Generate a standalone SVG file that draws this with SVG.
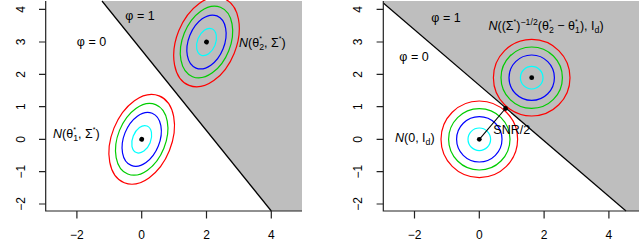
<svg xmlns="http://www.w3.org/2000/svg" width="640" height="241" viewBox="0 0 640 241">
<style>
text{font-family:"Liberation Sans",Arial,sans-serif;fill:#000}
.tk{font-size:12px;text-anchor:middle}
.lab{font-size:12.5px}
.mid{text-anchor:middle}
.it{font-style:italic}
.sm{font-size:8.75px}
.st{font-size:7px}
.ax{stroke:#222;stroke-width:1.2;fill:none}
.bd{stroke:#000;stroke-width:1.2;fill:none}
.c1{stroke:#FF0000;stroke-width:1.2;fill:none}
.c2{stroke:#00CD00;stroke-width:1.2;fill:none}
.c3{stroke:#0000FF;stroke-width:1.2;fill:none}
.c4{stroke:#00FFFF;stroke-width:1.2;fill:none}
</style>
<defs>
<g id="ell">
<ellipse rx="29.9" ry="46.8" class="c1"/>
<ellipse rx="23.9" ry="37.4" class="c2"/>
<ellipse rx="17.9" ry="28.1" class="c3"/>
<ellipse rx="9.1" ry="14.3" class="c4"/>
<circle r="2.4" fill="#000"/>
</g>
<g id="circ">
<circle r="38.3" class="c1"/>
<circle r="30.7" class="c2"/>
<circle r="22.7" class="c3"/>
<circle r="11.3" class="c4"/>
<circle r="2.4" fill="#000"/>
</g>
</defs>
<rect width="640" height="241" fill="#fff"/>

<g id="left-panel">
<polygon points="102,1 302,1 302,211 271.3,211" fill="#BEBEBE"/>
<line x1="102" y1="1" x2="271.3" y2="211" class="bd"/>
<g id="left-axes">
<polyline points="45.7,1 45.7,211 302,211" class="ax"/>
<path d="M39,9.3H45.7M39,42H45.7M39,74.3H45.7M39,106.7H45.7M39,139.3H45.7M39,171.7H45.7M39,204H45.7M76.9,211V218.5M141.7,211V218.5M206.5,211V218.5M271.3,211V218.5" class="ax"/>
<text class="tk" transform="translate(24.5,9.3) rotate(-90)">4</text>
<text class="tk" transform="translate(24.5,42) rotate(-90)">3</text>
<text class="tk" transform="translate(24.5,74.3) rotate(-90)">2</text>
<text class="tk" transform="translate(24.5,106.7) rotate(-90)">1</text>
<text class="tk" transform="translate(24.5,139.3) rotate(-90)">0</text>
<text class="tk" transform="translate(24.5,171.7) rotate(-90)">−1</text>
<text class="tk" transform="translate(24.5,204) rotate(-90)">−2</text>
<text class="tk" x="76.9" y="239">−2</text>
<text class="tk" x="141.7" y="239">0</text>
<text class="tk" x="206.5" y="239">2</text>
<text class="tk" x="271.3" y="239">4</text>
</g>
<g id="L-phi1"><text class="lab mid" x="140" y="19.5">φ = 1</text></g>
<g id="L-phi0"><text class="lab mid" x="91.5" y="46">φ = 0</text></g>
<g id="L-dist1">
<use href="#ell" transform="translate(141.7,139.3) rotate(21.9)"/>
<text class="lab" x="53" y="137.5"><tspan class="it">N</tspan>(θ<tspan class="st" dy="-6">*</tspan><tspan class="sm" dx="-2.7" dy="9.5">1</tspan><tspan dy="-3.5">, Σ</tspan><tspan class="st" dy="-6">*</tspan><tspan dy="6">)</tspan></text>
</g>
<g id="L-dist2">
<use href="#ell" transform="translate(206.5,42) rotate(21.9)"/>
<text class="lab" x="239" y="46.5"><tspan class="it">N</tspan>(θ<tspan class="st" dy="-6">*</tspan><tspan class="sm" dx="-2.7" dy="9.5">2</tspan><tspan dy="-3.5">, Σ</tspan><tspan class="st" dy="-6">*</tspan><tspan dy="6">)</tspan></text>
</g>
</g>

<g id="right-panel">
<polygon points="383.3,1 639,1 639,211 626,211 383.3,3" fill="#BEBEBE"/>
<line x1="383.3" y1="3" x2="626" y2="211" class="bd"/>
<g id="right-axes">
<polyline points="383.3,1 383.3,211 639,211" class="ax"/>
<path d="M376.6,9.3H383.3M376.6,42H383.3M376.6,74.3H383.3M376.6,106.7H383.3M376.6,139.3H383.3M376.6,171.7H383.3M376.6,204H383.3M414.5,211V218.5M479.3,211V218.5M544.1,211V218.5M608.9,211V218.5" class="ax"/>
<text class="tk" transform="translate(362,9.3) rotate(-90)">4</text>
<text class="tk" transform="translate(362,42) rotate(-90)">3</text>
<text class="tk" transform="translate(362,74.3) rotate(-90)">2</text>
<text class="tk" transform="translate(362,106.7) rotate(-90)">1</text>
<text class="tk" transform="translate(362,139.3) rotate(-90)">0</text>
<text class="tk" transform="translate(362,171.7) rotate(-90)">−1</text>
<text class="tk" transform="translate(362,204) rotate(-90)">−2</text>
<text class="tk" x="414.5" y="239">−2</text>
<text class="tk" x="479.3" y="239">0</text>
<text class="tk" x="544.1" y="239">2</text>
<text class="tk" x="608.9" y="239">4</text>
</g>
<g id="R-phi1"><text class="lab mid" x="446" y="21.5">φ = 1</text></g>
<g id="R-phi0"><text class="lab mid" x="414" y="61">φ = 0</text></g>
<g id="R-dist1">
<use href="#circ" transform="translate(479.3,139.3)"/>
<text class="lab" x="395" y="141.5"><tspan class="it">N</tspan>(0, I<tspan class="sm" dy="3">d</tspan><tspan dy="-3">)</tspan></text>
</g>
<g id="R-dist2">
<use href="#circ" transform="translate(531.7,77.7)"/>
<text class="lab" x="488.5" y="29.5"><tspan class="it">N</tspan>((Σ<tspan class="st" dy="-6">*</tspan><tspan dy="6">)</tspan><tspan class="sm" dy="-5">−1/2</tspan><tspan dy="5">(θ</tspan><tspan class="st" dy="-6">*</tspan><tspan class="sm" dx="-2.7" dy="9.5">2</tspan><tspan dy="-3.5"> − θ</tspan><tspan class="st" dy="-6">*</tspan><tspan class="sm" dx="-2.7" dy="9.5">1</tspan><tspan dy="-3.5">), I</tspan><tspan class="sm" dy="3">d</tspan><tspan dy="-3">)</tspan></text>
</g>
<g id="R-mid">
<circle cx="505.5" cy="108.5" r="2.4" fill="#000"/>
</g>
<g id="connectors">
<line x1="479.3" y1="139.3" x2="505.5" y2="108.5" stroke="#000" stroke-width="1.1"/>
</g>
<g id="R-snr"><text class="lab" x="493.3" y="134">SNR/2</text></g>
</g>
</svg>
